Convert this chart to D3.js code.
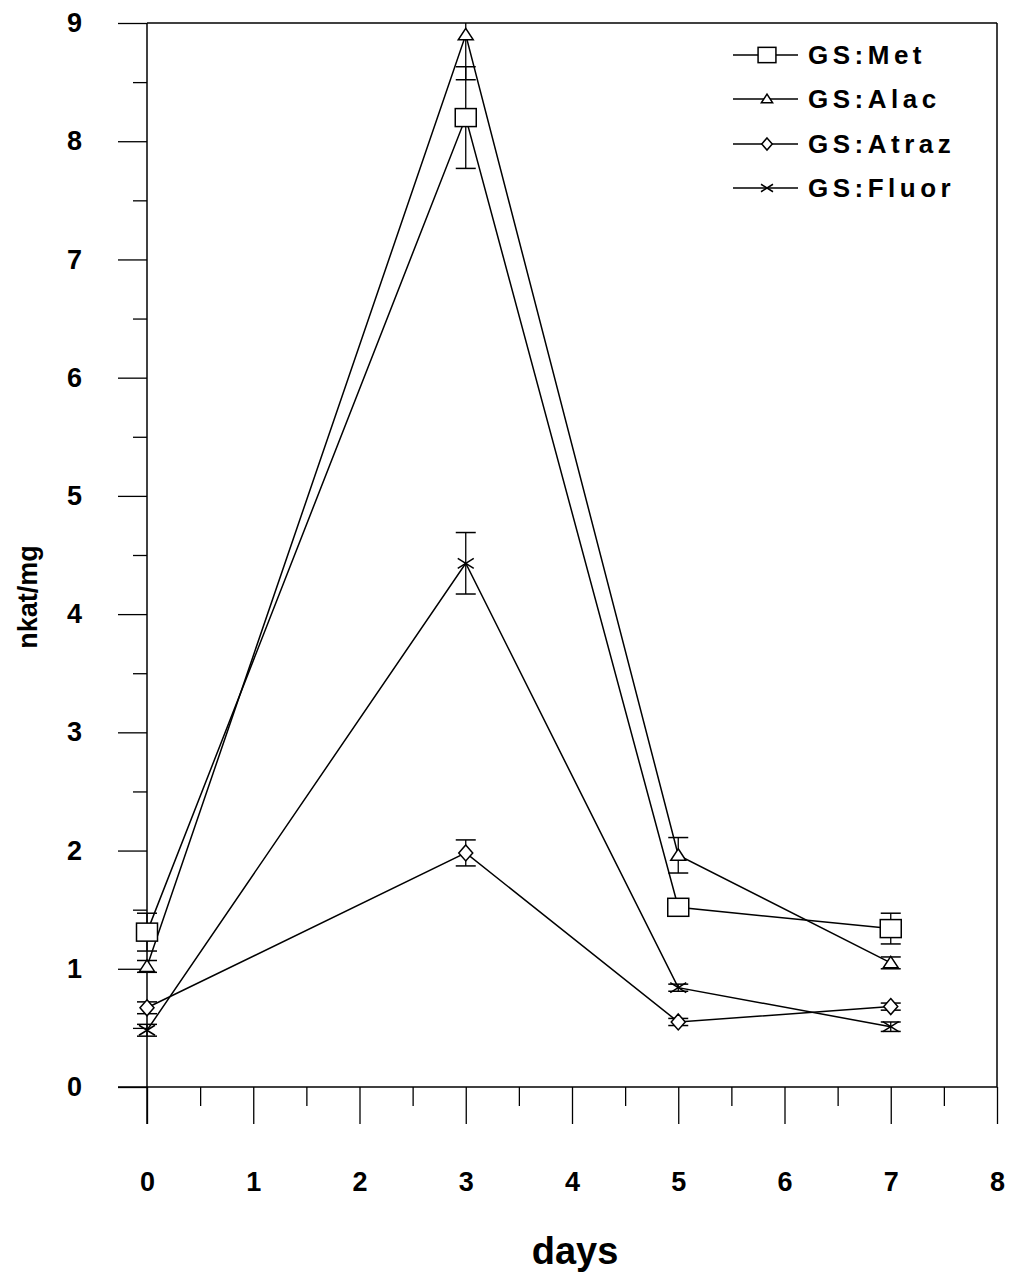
<!DOCTYPE html>
<html>
<head>
<meta charset="utf-8">
<script src="https://cdn.jsdelivr.net/npm/d3@7"></script>
<style>
  html, body { margin: 0; padding: 0; background: #fff; }
  svg { display: block; }
  text { font-family: "Liberation Sans", Arial, Helvetica, sans-serif; font-weight: bold; fill: #000; }
</style>
</head>
<body>
<script>
// ---- data ----
const days = [0, 3, 5, 7];
const seriesNames = ["GS:Met", "GS:Alac", "GS:Atraz", "GS:Fluor"];
const seriesMarkers = ["square", "triangle", "diamond", "cross"];
const metMean   = [1.31, 8.20, 1.52, 1.34];
const metErr    = [0.16, 0.43, 0.04, 0.13];
const alacMean  = [1.02, 8.90, 1.96, 1.05];
const alacErr   = [0.05, 0.38, 0.15, 0.05];
const atrazMean = [0.67, 1.98, 0.55, 0.68];
const atrazErr  = [0.05, 0.11, 0.03, 0.03];
const fluorMean = [0.48, 4.43, 0.84, 0.51];
const fluorErr  = [0.05, 0.26, 0.03, 0.04];
const xTicks = [0, 1, 2, 3, 4, 5, 6, 7, 8];
const yTicks = [0, 1, 2, 3, 4, 5, 6, 7, 8, 9];
const xMinorTicks = [0.5, 1.5, 2.5, 3.5, 4.5, 5.5, 6.5, 7.5];
const yMinorTicks = [0.5, 1.5, 2.5, 3.5, 4.5, 5.5, 6.5, 7.5, 8.5];
const xLabel = "days";
const yLabel = "nkat/mg";

const seriesMeans = [metMean, alacMean, atrazMean, fluorMean];
const seriesErrs = [metErr, alacErr, atrazErr, fluorErr];

const W = 1011, H = 1274;
const svg = d3.select("body").append("svg").attr("width", W).attr("height", H);

const x = d3.scaleLinear().domain([0, 8]).range([147, 997]);
const y = d3.scaleLinear().domain([0, 9]).range([1087, 23]);

// clip
svg.append("defs").append("clipPath").attr("id", "plotclip")
  .append("rect").attr("x", x(0) - 20).attr("y", y(9)).attr("width", x(8) - x(0) + 40).attr("height", y(0) - y(9));

// frame top + right
svg.append("line").attr("x1", x(0)).attr("x2", x(8)).attr("y1", y(9)).attr("y2", y(9))
  .attr("stroke", "#000").attr("stroke-width", 1.5);
svg.append("line").attr("x1", x(8)).attr("x2", x(8)).attr("y1", y(9)).attr("y2", y(0))
  .attr("stroke", "#000").attr("stroke-width", 1.5);

// axes
const yAxis = svg.append("g").attr("transform", `translate(${x(0)},0)`)
  .call(d3.axisLeft(y).tickValues(yTicks).tickSize(29).tickPadding(36).tickFormat(d3.format("d")));
const yMinor = svg.append("g").attr("transform", `translate(${x(0)},0)`)
  .call(d3.axisLeft(y).tickValues(yMinorTicks).tickSize(14).tickFormat(""));
const xAxis = svg.append("g").attr("transform", `translate(0,${y(0)})`)
  .call(d3.axisBottom(x).tickValues(xTicks).tickSize(37).tickPadding(48).tickFormat(d3.format("d")));
const xMinor = svg.append("g").attr("transform", `translate(0,${y(0)})`)
  .call(d3.axisBottom(x).tickValues(xMinorTicks).tickSize(19).tickFormat(""));

[yAxis, yMinor, xAxis, xMinor].forEach(g => {
  g.attr("font-size", 27);
  g.select(".domain").attr("stroke", "#000").attr("stroke-width", 1.5);
  g.selectAll(".tick line").attr("stroke", "#000").attr("stroke-width", 1.3);
  g.selectAll(".tick text").attr("font-size", 27).attr("font-weight", "bold")
    .attr("font-family", "'Liberation Sans', Arial, sans-serif").attr("fill", "#000");
});
// axis domain: extend x axis line left to the y 0 tick, y axis to top
xAxis.select(".domain").attr("d", `M${x(0) - 29},0H${x(8)}`);
yAxis.select(".domain").attr("d", `M0,${y(9)}V${y(0) + 37}`);
yMinor.select(".domain").remove();
xMinor.select(".domain").remove();

// axis titles
svg.append("text").attr("x", 575).attr("y", 1264).attr("text-anchor", "middle")
  .attr("font-size", 38).text(xLabel);
svg.append("text").attr("transform", "translate(37,597) rotate(-90)").attr("text-anchor", "middle")
  .attr("font-size", 27).text(yLabel);

// marker drawing
function marker(g, type, cx, cy, s) {
  const st = { fill: "#fff", stroke: "#000", "stroke-width": 1.5 };
  let el;
  if (type === "square") {
    el = g.append("rect").attr("x", cx - 10.5 * s).attr("y", cy - 9 * s)
      .attr("width", 21 * s).attr("height", 18 * s);
  } else if (type === "triangle") {
    el = g.append("path").attr("d",
      `M${cx},${cy - 6.5 * s}L${cx + 7.5 * s},${cy + 5 * s}L${cx - 7.5 * s},${cy + 5 * s}Z`);
  } else if (type === "diamond") {
    el = g.append("path").attr("d",
      `M${cx},${cy - 8 * s}L${cx + 7 * s},${cy}L${cx},${cy + 8 * s}L${cx - 7 * s},${cy}Z`);
  } else {
    el = g.append("path").attr("d",
      `M${cx - 8 * s},${cy - 5 * s}L${cx + 8 * s},${cy + 5 * s}M${cx - 8 * s},${cy + 5 * s}L${cx + 8 * s},${cy - 5 * s}`);
    st.fill = "none";
  }
  Object.entries(st).forEach(([k, v]) => el.attr(k, v));
}

const plot = svg.append("g").attr("clip-path", "url(#plotclip)");
const line = d3.line().x(d => x(d[0])).y(d => y(d[1]));

// lines
seriesMeans.forEach((means) => {
  plot.append("path").datum(days.map((d, i) => [d, means[i]]))
    .attr("d", line).attr("fill", "none").attr("stroke", "#000").attr("stroke-width", 1.5);
});

// error bars
seriesMeans.forEach((means, si) => {
  const errs = seriesErrs[si];
  days.forEach((d, i) => {
    const cx = x(d), hi = y(means[i] + errs[i]), lo = y(means[i] - errs[i]);
    plot.append("line").attr("x1", cx).attr("x2", cx).attr("y1", hi).attr("y2", lo)
      .attr("stroke", "#000").attr("stroke-width", 1.3);
    [hi, lo].forEach(yy => {
      plot.append("line").attr("x1", cx - 10).attr("x2", cx + 10).attr("y1", yy).attr("y2", yy)
        .attr("stroke", "#000").attr("stroke-width", 1.5);
    });
  });
});

// markers
seriesMeans.forEach((means, si) => {
  days.forEach((d, i) => marker(svg, seriesMarkers[si], x(d), y(means[i]), 1));
});

// legend
const legendY = [55, 99, 144, 188];
seriesNames.forEach((name, i) => {
  const ly = legendY[i];
  svg.append("line").attr("x1", 733).attr("x2", 798).attr("y1", ly).attr("y2", ly)
    .attr("stroke", "#000").attr("stroke-width", 1.5);
  marker(svg, seriesMarkers[i], 767, ly, i === 0 ? 0.85 : 0.75);
  svg.append("text").attr("x", 808).attr("y", ly + 9).attr("font-size", 26)
    .attr("letter-spacing", 4.5).text(name);
});
</script>
</body>
</html>
